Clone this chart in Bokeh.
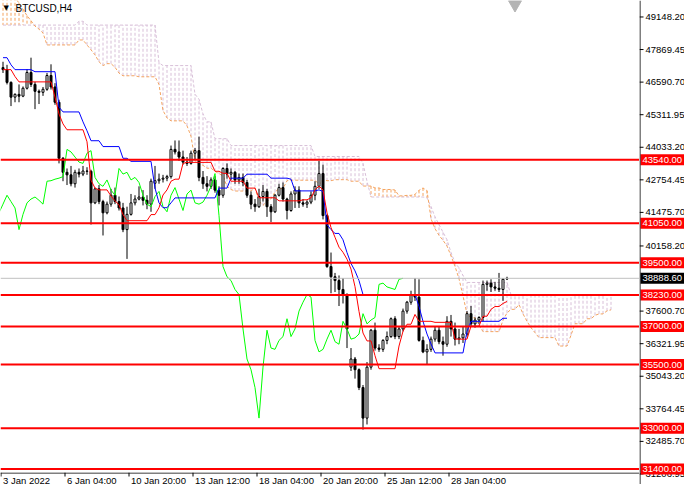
import numpy as np
from bokeh.plotting import figure
from bokeh.models import Range1d, Span, Label
from bokeh.layouts import row, column
from bokeh.core.properties import value
from bokeh.embed import file_html
from bokeh.resources import INLINE

symbol_label = "BTCUSD,H4"

open_ = [
    47160, 47080, 46580, 46000, 46110, 46040, 46350, 46970, 46500, 46230,
    46190, 46310, 46850, 46400, 45800, 43600, 43050, 42950, 42600, 43050,
    42980, 43100, 43090, 41850, 42400, 41900, 41460, 41800, 42150, 41900,
    41650, 40800, 41400, 41850, 42000, 42080, 41950, 41800, 42620, 42720,
    42780, 42820, 42880, 43950, 43850, 43650, 43450, 43400, 43800, 43900,
    42850, 42600, 42500, 42750, 42350, 42150, 43200, 42980, 43050, 42750,
    42850, 42650, 42150, 41800, 41700, 42100, 42300, 41700, 41500, 42150,
    42450, 42000, 41550, 42200, 42350, 41850, 41800, 41880, 42150, 42500,
    43000, 41350, 39350, 38950, 38800, 38450, 38250, 35400, 35720, 35300,
    34600, 33400, 35400, 36850, 36150, 36100, 36450, 36600, 37300, 36600,
    36900, 37600, 37950, 38250, 38150, 36450, 36000, 36100, 36500, 36850,
    36400, 36300, 37200, 36900, 36500, 36550, 36700, 37500, 37100, 37250,
    37350, 38650, 38700, 38550, 38500, 38450, 38860]
high = [
    47390, 47270, 46620, 46150, 46500, 46420, 47100, 47550, 46600, 46300,
    46400, 46950, 47290, 46550, 45900, 43650, 43200, 43300, 43150, 43200,
    43300, 43250, 43150, 42450, 42550, 41970, 41900, 42400, 42450, 42100,
    41850, 41700, 42200, 42150, 42500, 42350, 42150, 42800, 43300, 43000,
    42950, 42950, 44100, 44300, 44300, 43900, 43650, 43900, 44000, 44450,
    43100, 42900, 42850, 42900, 42500, 43250, 43400, 43200, 43100, 43000,
    43000, 42750, 42300, 42000, 42400, 42550, 42400, 41800, 42200, 42600,
    42650, 42050, 42300, 42500, 42500, 42000, 41950, 42300, 42700, 43500,
    43350, 41400, 39900, 39100, 39000, 38900, 38300, 36150, 35800, 35350,
    34700, 35600, 36900, 37150, 36300, 36500, 36800, 37350, 37400, 37000,
    37700, 38000, 38400, 38900, 38850, 36600, 36300, 36600, 37000, 37000,
    36600, 37400, 37450, 37150, 36900, 37000, 37600, 37800, 37350, 37400,
    38800, 38800, 38850, 38750, 39100, 38900, 38950]
low = [
    46950, 46500, 45650, 45800, 45800, 46000, 46300, 46400, 45530, 45730,
    46050, 46250, 46300, 45700, 43400, 42700, 42550, 42500, 42450, 42850,
    42900, 42950, 41000, 41800, 41800, 40570, 41400, 41700, 41800, 41550,
    40700, 39650, 41350, 41750, 41950, 41750, 41600, 41500, 42400, 42600,
    42650, 42700, 42800, 43750, 43500, 43350, 43300, 43350, 43550, 42700,
    42400, 42300, 42400, 42250, 41750, 42050, 42800, 42750, 42600, 42600,
    42500, 42050, 41600, 41500, 41650, 41900, 41300, 41100, 41450, 42100,
    41900, 41200, 41500, 41650, 41650, 41700, 41650, 41800, 41950, 42400,
    41200, 39300, 38300, 38350, 37800, 37900, 36150, 35250, 34950, 34500,
    32950, 33150, 35300, 36050, 36000, 36000, 36300, 36550, 36500, 36500,
    36800, 37500, 37850, 38000, 36400, 35950, 35500, 36000, 36400, 36300,
    35850, 36200, 36600, 36250, 36300, 36350, 36600, 37000, 36950, 37100,
    37200, 38400, 38350, 38400, 38350, 38000, 38820]
close = [
    47080, 46580, 46000, 46110, 46040, 46350, 46970, 46500, 46230, 46190,
    46310, 46850, 46400, 45800, 43600, 43050, 42950, 42600, 43050, 42980,
    43100, 43090, 41850, 42400, 41900, 41460, 41800, 42150, 41900, 41650,
    40800, 41400, 41850, 42000, 42080, 41950, 41800, 42700, 42720, 42780,
    42820, 42880, 43950, 43850, 43650, 43450, 43400, 43800, 43900, 42850,
    42600, 42500, 42750, 42350, 42150, 43200, 42980, 43050, 42750, 42850,
    42650, 42150, 41800, 41700, 42100, 42300, 41700, 41500, 42150, 42450,
    42000, 41550, 42200, 42350, 41850, 41800, 41880, 42150, 42500, 43000,
    41350, 39350, 38950, 38800, 38450, 38250, 36900, 35720, 35300, 34600,
    33400, 35400, 36850, 36150, 36100, 36450, 36600, 37300, 36600, 36900,
    37600, 37950, 38250, 38150, 36450, 36000, 36100, 36500, 36850, 36400,
    36300, 37200, 36900, 36500, 36550, 36700, 37500, 37100, 37250, 37350,
    38650, 38700, 38550, 38500, 38450, 38850, 38888.6]

tenkan = [
    47080, 47080, 47080, 46810, 46600, 46600, 46600, 46600, 46600, 46600,
    46600, 46600, 46600, 46000, 45340, 44950, 44720, 44720, 44720, 44720,
    44720, 44250, 42740, 42430, 42360, 42360, 42360, 42120, 41930, 41770,
    41390, 41150, 41150, 41150, 41150, 41150, 41150, 41390, 41390, 41660,
    42160, 42360, 42700, 42780, 42780, 43400, 43440, 43440, 43440, 43440,
    43440, 43440, 43440, 43090, 43090, 43010, 43010, 42700, 42700, 42700,
    42700, 42430, 42430, 42430, 42050, 42050, 42050, 42050, 42050, 41930,
    41930, 41930, 41930, 41930, 41930, 41970, 41970, 42050, 42360, 42510,
    42360, 41460, 40880, 40500, 40110, 39910, 39640, 39250, 38560, 37590,
    36740, 36430, 36430, 35850, 35340, 35340, 35340, 35340, 35340, 36230,
    36810, 37085, 37085, 37470, 37200, 37200, 37200, 37200, 37160, 37160,
    37160, 37160, 37160, 36500, 36500, 36500, 36500, 37010, 37010, 37010,
    37400, 37400, 37670, 37780, 37780, 37900, 37980]
kijun = [
    47550, 47550, 47270, 47080, 47080, 47080, 47080, 47080, 47000, 47000,
    47000, 47000, 47000, 47000, 45610, 45420, 45420, 45420, 45420, 45420,
    45030, 44680, 44290, 44290, 44290, 44060, 44060, 44060, 44060, 44060,
    43600, 43600, 43480, 43480, 43480, 43480, 43480, 43480, 42430, 41850,
    41660, 41660, 41850, 42045, 42045, 42045, 42045, 42045, 42045, 42045,
    42045, 42045, 42045, 42045, 42430, 42430, 42430, 42820, 42820, 42820,
    42820, 42975, 42975, 42975, 42975, 42975, 42975, 42820, 42820, 42820,
    42820, 42820, 42780, 42320, 42320, 42320, 42320, 42320, 42320, 42360,
    42300, 40990, 40800, 40650, 40650, 40400, 39900, 39470, 39180, 38800,
    38250, 38250, 38250, 38250, 38250, 38250, 38250, 38250, 38250, 38250,
    38250, 38250, 38250, 38250, 37780, 37200, 36700, 36310, 35960, 35960,
    35960, 35960, 35960, 35960, 35960, 35960, 36810, 37200, 37200, 37200,
    37200, 37200, 37200, 37200, 37200, 37320, 37320]
senkou_a = [
    49900, 49900, 49900, 49900, 49700, 49450, 49200, 49000, 48790, 48670,
    48520, 48050, 48050, 48050, 48050, 48050, 48050, 48050, 48050, 48245,
    48245, 48050, 47860, 47660, 47390, 47240, 47315, 47315, 47175, 46945,
    46840, 46840, 46840, 46840, 46800, 46800, 46800, 46800, 46800, 46500,
    45475, 45185, 45070, 45070, 45070, 45070, 44875, 44465, 43515, 43360,
    43325, 43210, 43210, 43090, 42995, 42915, 42495, 42375, 42315, 42315,
    42315, 42315, 42315, 42435, 41910, 41755, 41910, 42010, 42275, 42410,
    42410, 42720, 42740, 42740, 42740, 42740, 42740, 42740, 42740, 42570,
    42760, 42720, 42720, 42760, 42760, 42760, 42760, 42700, 42700, 42700,
    42510, 42510, 42510, 42435, 42435, 42375, 42375, 42375, 42355, 42125,
    42125, 42145, 42145, 42185, 42340, 42435, 42330, 41225, 40840, 40575,
    40380, 40155, 39770, 39360, 38870, 38195, 37495, 37340, 37340, 37050,
    36795, 36795, 36795, 36795, 36795, 37240, 37530, 37670, 37670, 37860,
    37490, 37200, 36950, 36755, 36560, 36560, 36560, 36560, 36560, 36230,
    36230, 36230, 36655, 37105, 37105, 37105, 37300, 37300, 37435, 37490,
    37490, 37610, 37650]
senkou_b = [
    48830, 48830, 48830, 48830, 48830, 48830, 48830, 48830, 48830, 48830,
    48830, 48830, 48830, 48830, 48830, 48830, 48830, 48830, 48830, 48980,
    48980, 48830, 48830, 48830, 48830, 48830, 48830, 48830, 48830, 48830,
    48830, 48830, 48830, 48830, 48830, 48830, 48830, 48830, 48830, 47350,
    47240, 47240, 47240, 47240, 47240, 47240, 47240, 47240, 46115, 45920,
    45340, 45030, 45030, 44370, 44370, 44370, 44370, 44100, 44100, 44100,
    44100, 44100, 44100, 44100, 44100, 44100, 44100, 44100, 44100, 44100,
    44100, 44100, 44100, 44100, 44100, 44100, 44100, 44100, 43670, 43670,
    43670, 43670, 43670, 43670, 43670, 43670, 43670, 43670, 43670, 43670,
    43400, 42700, 42080, 42080, 42080, 42080, 42080, 42080, 42080, 42080,
    42080, 42080, 42080, 42080, 42080, 42080, 42050, 41700, 41300, 41000,
    40700, 40400, 39900, 39500, 39300, 39000, 38725, 38725, 38725, 38725,
    38725, 38725, 38725, 38725, 38725, 38725, 38725, 38250, 38250, 38250,
    38250, 38250, 38250, 38250, 38250, 38250, 38250, 38250, 38250, 38250,
    38250, 38250, 38250, 38250, 38250, 38250, 38250, 38250, 38250, 38250,
    38250, 38250, 38250]
chikou_shift = 26

levels = [43540, 41050, 39500, 38230, 37000, 35500, 33000, 31400]
last_price = 38888.60
price_ticks = [49148.20, 47869.45, 46590.70, 45311.95, 44033.20, 42754.45,
               41475.70, 40158.20, 37600.70, 36321.95, 35043.20, 33764.45,
               32485.70, 31206.95]
time_label_bars = [0, 16, 32, 48, 64, 80, 96, 112]
time_labels = ["3 Jan 2022", "6 Jan 04:00", "10 Jan 20:00", "13 Jan 12:00",
               "18 Jan 04:00", "20 Jan 20:00", "25 Jan 12:00", "28 Jan 04:00"]

FONT = "Liberation Sans"
MAIN_W, MAIN_H = 639, 472
AXIS_W, AXIS_H = 45, 12
PX_PER_BAR = 4
X0 = -0.625
X1 = X0 + MAIN_W / PX_PER_BAR
Y1 = 49795
PRICE_PER_PX = 39.26
Y0 = Y1 - MAIN_H * PRICE_PER_PX

common = dict(output_backend="svg", toolbar_location=None, min_border=0,
              x_axis_location=None, y_axis_location=None)

# ---------------- main chart ----------------
p = figure(width=MAIN_W, height=MAIN_H, x_range=Range1d(X0, X1), y_range=Range1d(Y0, Y1), **common)
p.grid.visible = False
p.outline_line_color = None

# Ichimoku cloud
cx = np.arange(len(senkou_a))
sa = np.array(senkou_a, dtype=float)
sb = np.array(senkou_b, dtype=float)
cloud_colors = list(np.where(sa > sb, "#F4A460", "#D8BFD8"))
p.segment(x0=cx, y0=sa, x1=cx, y1=sb, line_color=cloud_colors, line_width=1, line_dash="3 2")
p.line(cx, sb, line_color="#D8BFD8", line_width=1, line_dash="3 2")
p.line(cx, sa, line_color="#F4A460", line_width=1, line_dash="3 2")

# bid line
p.add_layout(Span(location=last_price, dimension="width", line_color="#C0C0C0", line_width=1))

# candles
x = np.arange(len(close))
o = np.array(open_, dtype=float)
c = np.array(close, dtype=float)
h = np.array(high, dtype=float)
l = np.array(low, dtype=float)
up = c >= o
p.segment(x0=x, y0=h, x1=x, y1=l, line_color="black", line_width=1)
p.vbar(x=x[up], width=0.5, top=c[up], bottom=o[up], fill_color="white", line_color="black", line_width=1)
p.vbar(x=x[~up], width=0.5, top=o[~up], bottom=c[~up], fill_color="black", line_color="black", line_width=1)

# Ichimoku lines
p.line(x - chikou_shift, c, line_color="#00FF00", line_width=1)
p.line(x, kijun, line_color="#0000FF", line_width=1)
p.line(x, tenkan, line_color="#FF0000", line_width=1)

# horizontal levels
for lv in levels:
    p.add_layout(Span(location=lv, dimension="width", line_color="#FF0000", line_width=2))

# symbol caption
p.add_layout(Label(x=X0, y=Y1, x_offset=3, y_offset=-3, text="\u25BC", text_font="DejaVu Sans",
                   text_font_size="7px", text_color="black", text_align="left", text_baseline="top"))
p.add_layout(Label(x=X0, y=Y1, x_offset=15, y_offset=-2, text=symbol_label, text_font=FONT,
                   text_font_size="10px", text_color="black", text_align="left", text_baseline="top"))

# chart-shift marker just past the last bar (a glyph, not text)
p.scatter(x=[len(close) + 1], y=[Y1 - 4 * PRICE_PER_PX], marker="inverted_triangle", size=13,
          fill_color="#B4B4B4", line_color="#B4B4B4")

# ---------------- right price scale (full height, same price scale) ----------------
R_H = MAIN_H + AXIS_H
r = figure(width=AXIS_W, height=R_H, x_range=Range1d(0, AXIS_W),
           y_range=Range1d(Y1 - R_H * PRICE_PER_PX, Y1), **common)
r.grid.visible = False
r.outline_line_color = None
r.add_layout(Span(location=0.5, dimension="height", line_color="black", line_width=1))
r.segment(x0=[0] * len(price_ticks), y0=price_ticks, x1=[4] * len(price_ticks), y1=price_ticks,
          line_color="black", line_width=1)
r.text(x=[6] * len(price_ticks), y=price_ticks, text=[f"{v:.2f}" for v in price_ticks],
       text_font=value(FONT), text_font_size="9.5px", text_color="black",
       text_align="left", text_baseline="middle")
box_prices = levels + [last_price]
box_colors = ["#FF0000"] * len(levels) + ["black"]
r.rect(x=[23] * len(box_prices), y=box_prices, width=44, height=11,
       width_units="screen", height_units="screen", fill_color=box_colors, line_color=None)
r.text(x=[3] * len(box_prices), y=box_prices, text=[f"{v:.2f}" for v in box_prices],
       text_font=value(FONT), text_font_size="9.5px", text_color="white",
       text_align="left", text_baseline="middle")

# ---------------- bottom time scale ----------------
b = figure(width=MAIN_W, height=AXIS_H, x_range=p.x_range, y_range=Range1d(0, AXIS_H), **common)
b.grid.visible = False
b.outline_line_color = None
b.add_layout(Span(location=AXIS_H - 0.5, dimension="width", line_color="black", line_width=1))
tick_x = [tb - 0.5 for tb in time_label_bars]
b.segment(x0=tick_x, y0=[AXIS_H] * len(tick_x), x1=tick_x, y1=[AXIS_H - 4] * len(tick_x),
          line_color="black", line_width=1)
b.text(x=tick_x, y=[AXIS_H - 2] * len(tick_x), text=time_labels, x_offset=2,
       text_font=value(FONT), text_font_size="9.5px", text_color="black",
       text_align="left", text_baseline="top")

layout = row(column(p, b), r)
open("out.html", "w").write(file_html(layout, INLINE))
